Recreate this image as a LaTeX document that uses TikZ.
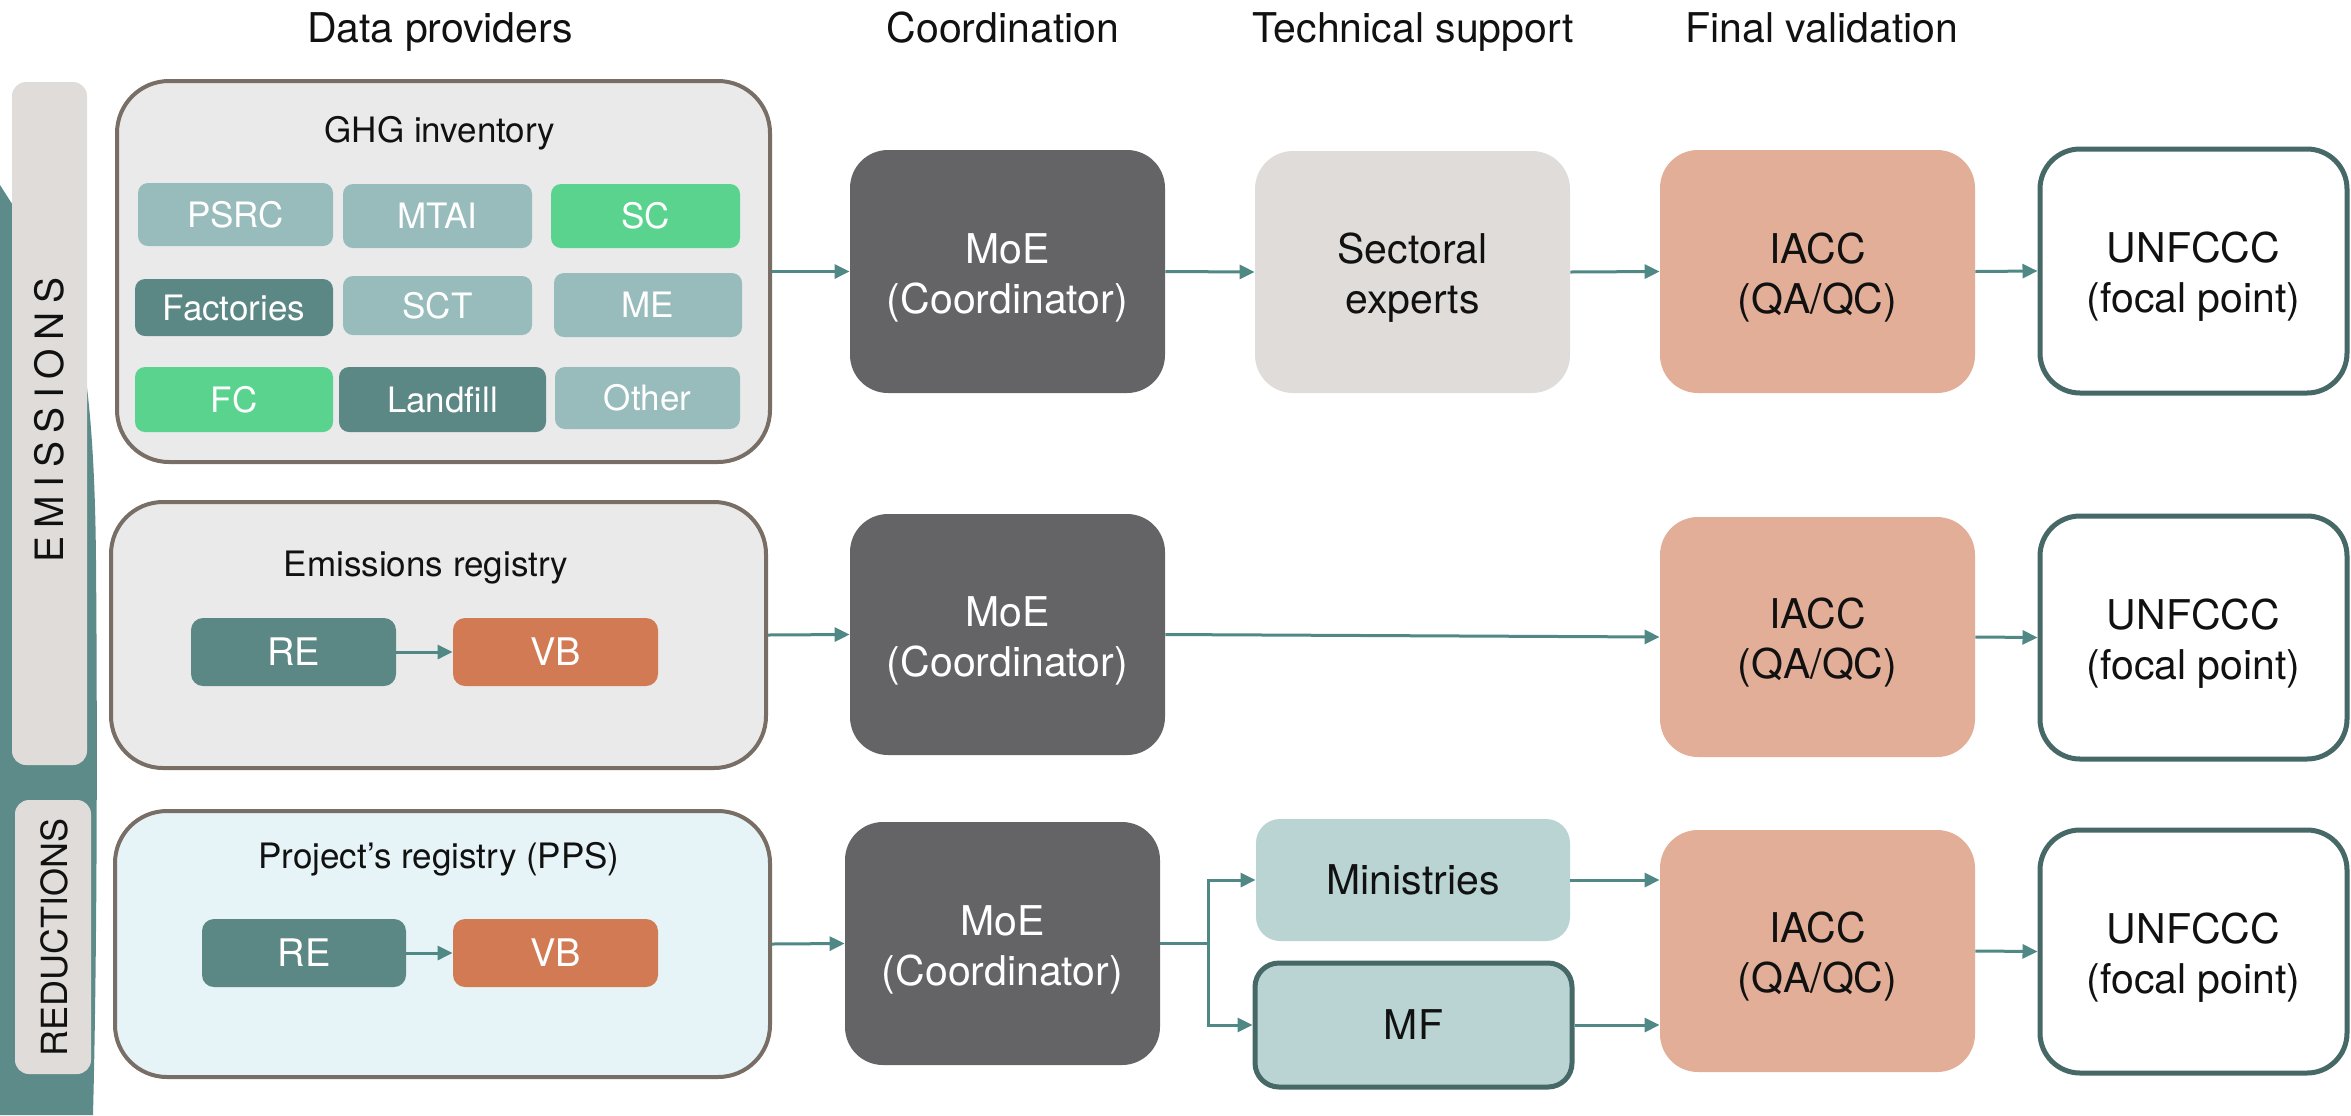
\documentclass[tikz,border=0pt]{standalone}
\usepackage{fontspec}
\setmainfont{TeX Gyre Heros}
\newfontfamily\spacedfont[LetterSpace=22]{TeX Gyre Heros}
\usetikzlibrary{arrows.meta}
\definecolor{bandteal}{HTML}{5C8B89}
\definecolor{labelgrey}{HTML}{E0DCD9}
\definecolor{brownline}{HTML}{786E66}
\definecolor{ghgfill}{HTML}{EAEAEA}
\definecolor{ppsfill}{HTML}{E6F3F7}
\definecolor{lteal}{HTML}{98BBBB}
\definecolor{lgreen}{HTML}{5AD38E}
\definecolor{dteal}{HTML}{5B8784}
\definecolor{vborange}{HTML}{D17A53}
\definecolor{moegrey}{HTML}{646466}
\definecolor{sectgrey}{HTML}{E0DCDA}
\definecolor{salmon}{HTML}{E2AE97}
\definecolor{unfline}{HTML}{466866}
\definecolor{minfill}{HTML}{BAD3D3}
\definecolor{arrcol}{HTML}{4F8885}
\definecolor{txtdark}{HTML}{111111}
\begin{document}
\begin{tikzpicture}[x=0.5pt,y=-0.5pt,
  hdr/.style={anchor=base, inner sep=0pt, text=txtdark, font=\fontsize{20.5}{24.5}\selectfont},
  ttl/.style={anchor=base, inner sep=0pt, text=txtdark, font=\fontsize{17.5}{21}\selectfont},
  provbox/.style={draw=brownline, line width=2pt, rounded corners=26pt, inner sep=0pt},
  smallbox/.style={rounded corners=5pt, inner sep=0pt, text=white, font=\fontsize{17.5}{21}\selectfont},
  rebox/.style={rounded corners=6pt, inner sep=0pt, text=white, font=\fontsize{19}{23}\selectfont},
  bigbox/.style={rounded corners=19pt, inner sep=0pt, align=center, font=\fontsize{20.5}{25}\selectfont},
  boxtext/.style={inner sep=0pt, align=center, font=\fontsize{20.5}{25}\selectfont, text=txtdark},
  moebox/.style={bigbox, fill=moegrey, text=white},
  sectbox/.style={bigbox, fill=sectgrey, text=txtdark},
  iaccbox/.style={bigbox, fill=salmon, text=txtdark},
  unfbox/.style={bigbox, draw=unfline, line width=2.5pt, fill=white, text=txtdark, rounded corners=20pt},
  minbox/.style={bigbox, fill=minfill, text=txtdark, rounded corners=12pt},
  mfbox/.style={minbox, draw=unfline, line width=2.5pt},
  sidelabel/.style={fill=labelgrey, rounded corners=7pt, inner sep=0pt},
  arr/.style={draw=arrcol, line width=1.5pt, -{Triangle[length=7.5pt,width=7pt]}},
  ]
\useasboundingbox (0,0) rectangle (2351,1115);

% left teal band
\fill[bandteal] (0,185) -- (16,210) .. controls (70,260) and (94,340) .. (96,560)
  .. controls (98,800) and (96,1000) .. (93,1115) -- (0,1115) -- cycle;

% side labels
\node[sidelabel, minimum width=37.5pt, minimum height=341.5pt] (emlab) at (49.5,423.5) {};
\node[rotate=90, inner sep=0pt, text=txtdark, font=\spacedfont\fontsize{19.5}{23}\selectfont] (emtxt) at (49,420) {EMISSIONS};
\node[sidelabel, minimum width=38pt, minimum height=137pt] (redlab) at (53,937) {};
\node[rotate=90, inner sep=0pt, text=txtdark, font=\fontsize{18}{21}\selectfont] (redtxt) at (54,937) {REDUCTIONS};

% headers
\node[hdr] (h1) at (440,42) {Data providers};
\node[hdr] (h2) at (1003,42) {Coordination};
\node[hdr] (h3) at (1413,42) {Technical support};
\node[hdr] (h4) at (1822,42) {Final validation};

% ---------- Row 1 ----------
\node[provbox, fill=ghgfill, minimum width=326.5pt, minimum height=190.5pt] (ghg) at (443.5,271.5) {};
\node[ttl] (ghgt) at (440,142) {GHG inventory};
\node[smallbox, fill=lteal, minimum width=97.5pt, minimum height=31.5pt] (psrc) at (235.5,214.5) {PSRC};
\node[smallbox, fill=lteal, minimum width=94.5pt, minimum height=32pt] (mtai) at (437.5,216) {MTAI};
\node[smallbox, fill=lgreen, minimum width=94.5pt, minimum height=32pt] (sc) at (645.5,216) {SC};
\node[smallbox, fill=dteal, minimum width=99pt, minimum height=28.5pt] (fac) at (234,307.5) {Factories};
\node[smallbox, fill=lteal, minimum width=94.5pt, minimum height=29.5pt] (sct) at (437.5,305.5) {SCT};
\node[smallbox, fill=lteal, minimum width=94pt, minimum height=32pt] (me) at (648,305) {ME};
\node[smallbox, fill=lgreen, minimum width=99pt, minimum height=32.5pt] (fc) at (234,399.5) {FC};
\node[smallbox, fill=dteal, minimum width=103.5pt, minimum height=32.5pt] (land) at (442.5,399.5) {Landfill};
\node[smallbox, fill=lteal, minimum width=92.5pt, minimum height=31pt] (other) at (647.5,398) {Other};

\node[moebox, minimum width=157.5pt, minimum height=121.5pt] (moe1) at (1007.5,271.5) {};
\node[boxtext, text=white] (moe1t) at ([yshift=-3pt]moe1.center) {MoE\\(Coordinator)};
\node[sectbox, minimum width=157.5pt, minimum height=121pt] (sect) at (1412.5,272) {};
\node[boxtext] (sectt) at ([yshift=-3pt]sect.center) {Sectoral\\experts};
\node[iaccbox, minimum width=157.5pt, minimum height=121.5pt] (iacc1) at (1817.5,271.5) {};
\node[boxtext] (iacc1t) at ([yshift=-3pt]iacc1.center) {IACC\\(QA/QC)};
\node[unfbox, minimum width=153.5pt, minimum height=122pt] (unf1) at (2193.5,271) {};
\node[boxtext] (unf1t) at ([yshift=-3pt]unf1.center) {UNFCCC\\(focal point)};

\draw[arr] (ghg.east) -- (moe1.west);
\draw[arr] (moe1.east) -- (sect.west);
\draw[arr] (sect.east) -- (iacc1.west);
\draw[arr] (iacc1.east) -- (unf1.west);

% ---------- Row 2 ----------
\node[provbox, fill=ghgfill, minimum width=327.5pt, minimum height=133pt] (emreg) at (438.5,635) {};
\node[ttl] (emregt) at (426,576) {Emissions registry};
\node[rebox, fill=dteal, minimum width=102.5pt, minimum height=34pt] (re2) at (293.5,652) {RE};
\node[rebox, fill=vborange, minimum width=102.5pt, minimum height=34pt] (vb2) at (555.5,652) {VB};
\draw[arr] (re2.east) -- (vb2.west);

\node[moebox, minimum width=157.5pt, minimum height=120.5pt] (moe2) at (1007.5,634.5) {};
\node[boxtext, text=white] (moe2t) at ([yshift=-3pt]moe2.center) {MoE\\(Coordinator)};
\node[iaccbox, minimum width=157.5pt, minimum height=120pt] (iacc2) at (1817.5,637) {};
\node[boxtext] (iacc2t) at ([yshift=-3pt]iacc2.center) {IACC\\(QA/QC)};
\node[unfbox, minimum width=153.5pt, minimum height=121.5pt] (unf2) at (2193.5,637.5) {};
\node[boxtext] (unf2t) at ([yshift=-3pt]unf2.center) {UNFCCC\\(focal point)};

\draw[arr] (emreg.east) -- (moe2.west);
\draw[arr] (moe2.east) -- (iacc2.west);
\draw[arr] (iacc2.east) -- (unf2.west);

% ---------- Row 3 ----------
\node[provbox, fill=ppsfill, minimum width=327.5pt, minimum height=133pt] (pps) at (442.5,944) {};
\node[ttl] (ppst) at (439,868) {Project’s registry (PPS)};
\node[rebox, fill=dteal, minimum width=102pt, minimum height=34pt] (re3) at (304,953) {RE};
\node[rebox, fill=vborange, minimum width=102.5pt, minimum height=34pt] (vb3) at (555.5,953) {VB};
\draw[arr] (re3.east) -- (vb3.west);

\node[moebox, minimum width=157.5pt, minimum height=121.5pt] (moe3) at (1002.5,943.5) {};
\node[boxtext, text=white] (moe3t) at ([yshift=-3pt]moe3.center) {MoE\\(Coordinator)};
\node[minbox, minimum width=157pt, minimum height=61pt] (min) at (1413,880) {Ministries};
\node[mfbox, minimum width=158.5pt, minimum height=62pt] (mf) at (1413.5,1025) {MF};
\node[iaccbox, minimum width=157.5pt, minimum height=121pt] (iacc3) at (1817.5,951) {};
\node[boxtext] (iacc3t) at ([yshift=-3pt]iacc3.center) {IACC\\(QA/QC)};
\node[unfbox, minimum width=153.5pt, minimum height=121.5pt] (unf3) at (2193.5,951.5) {};
\node[boxtext] (unf3t) at ([yshift=-3pt]unf3.center) {UNFCCC\\(focal point)};

\draw[arr] (pps.east) -- (moe3.west);
\coordinate (br) at (1208,943.5);
\draw[draw=arrcol, line width=1.5pt] (moe3.east) -- (br);
\draw[arr] (br) |- (min.west);
\draw[arr] (br) |- (mf.west);
\draw[arr] (min.east) -- (min.east -| iacc3.west);
\draw[arr] (mf.east) -- (mf.east -| iacc3.west);
\draw[arr] (iacc3.east) -- (unf3.west);
\end{tikzpicture}
\end{document}
